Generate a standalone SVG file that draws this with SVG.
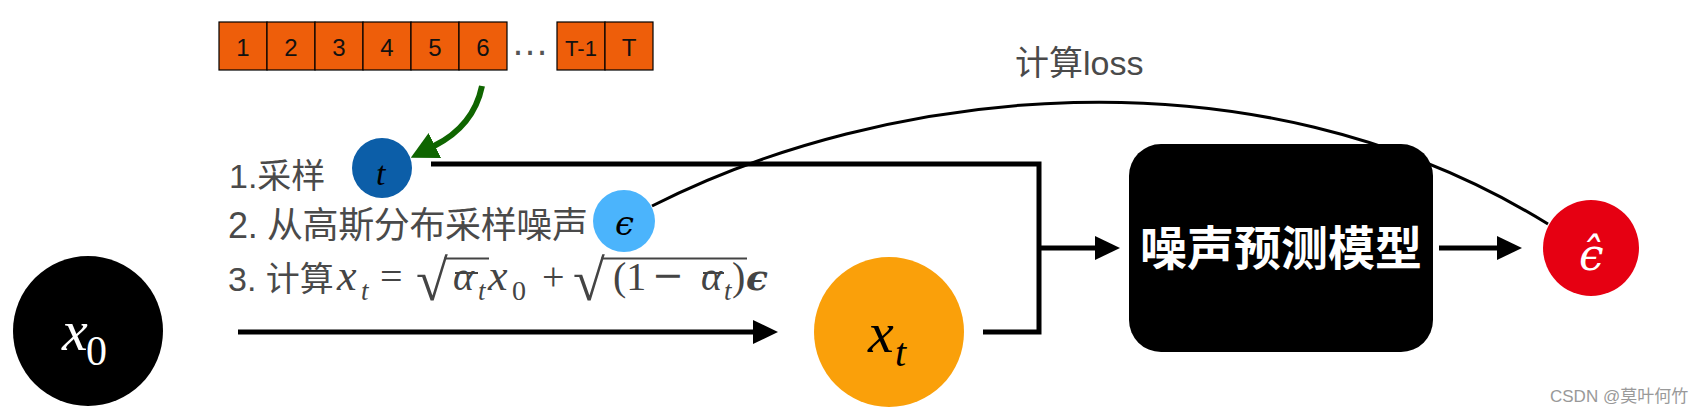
<svg xmlns="http://www.w3.org/2000/svg" width="1702" height="414" viewBox="0 0 1702 414">
<style>
.lbl{font-family:"Liberation Sans","Noto Sans CJK SC",sans-serif;fill:#4a4a4a;}
.cell{fill:#ee5e0a;stroke:#000;stroke-width:1.2;}
.num{font-family:"Liberation Sans",sans-serif;font-size:24px;fill:#111;text-anchor:middle;}
.m{font-family:"Liberation Serif","DejaVu Serif",serif;font-style:italic;}
.mu{font-family:"Liberation Serif","DejaVu Serif",serif;}
.op{font-family:"DejaVu Serif","Liberation Serif",serif;}
.eps{font-family:"DejaVu Serif","Liberation Serif",serif;font-style:italic;}
.conn{fill:none;stroke:#000;stroke-width:5;stroke-linejoin:miter;}
</style>
<defs>
<marker id="ah" markerUnits="userSpaceOnUse" markerWidth="25" markerHeight="24" viewBox="0 0 25 24" refX="1" refY="12" orient="auto"><path d="M0,0 L25,12 L0,24 z" fill="#000"/></marker>
<marker id="ahg" markerUnits="userSpaceOnUse" markerWidth="27" markerHeight="28" viewBox="0 0 27 28" refX="1" refY="14" orient="auto"><path d="M0,0 L27,14 L0,28 z" fill="#0f6500"/></marker>
</defs>

<g id="timesteps">
<rect class="cell" x="219" y="22" width="48" height="48"/>
<rect class="cell" x="267" y="22" width="48" height="48"/>
<rect class="cell" x="315" y="22" width="48" height="48"/>
<rect class="cell" x="363" y="22" width="48" height="48"/>
<rect class="cell" x="411" y="22" width="48" height="48"/>
<rect class="cell" x="459" y="22" width="48" height="48"/>
<rect class="cell" x="557" y="22" width="48" height="48"/>
<rect class="cell" x="605" y="22" width="48" height="48"/>
<text class="num" x="243" y="56">1</text>
<text class="num" x="291" y="56">2</text>
<text class="num" x="339" y="56">3</text>
<text class="num" x="387" y="56">4</text>
<text class="num" x="435" y="56">5</text>
<text class="num" x="483" y="56">6</text>
<text class="num" x="581" y="56" style="font-size:22px">T-1</text>
<text class="num" x="629" y="56">T</text>
<text class="lbl" x="530" y="55" text-anchor="middle" style="font-size:38px;fill:#555">…</text>
</g>

<g id="labels">
<text class="lbl" x="229" y="188" style="font-size:34px">1.采样</text>
<text class="lbl" x="228" y="238" style="font-size:36px" textLength="360" lengthAdjust="spacing">2. 从高斯分布采样噪声</text>
<text class="lbl" x="228" y="291" style="font-size:34px">3. 计算</text>
<text class="lbl" x="1015" y="75" style="font-size:34px">计算loss</text>
</g>

<g id="formula" fill="#444">
<text class="m" x="337" y="290" style="font-size:44px">x</text>
<text class="m" x="361" y="300" style="font-size:27px">t</text>
<text class="mu" x="380" y="290" style="font-size:40px">=</text>
<text class="mu" x="416" y="300" style="font-size:58px">√</text>
<line x1="444" y1="258.5" x2="489" y2="258.5" stroke="#444" stroke-width="2"/>
<text class="m" x="453" y="290" style="font-size:40px">α</text>
<line x1="455" y1="273" x2="478" y2="273" stroke="#444" stroke-width="2"/>
<text class="m" x="478" y="300" style="font-size:27px">t</text>
<text class="m" x="488" y="290" style="font-size:44px">x</text>
<text class="mu" x="512" y="300" style="font-size:28px">0</text>
<text class="mu" x="542" y="290" style="font-size:40px">+</text>
<text class="mu" x="573" y="300" style="font-size:58px">√</text>
<line x1="601" y1="258.5" x2="747" y2="258.5" stroke="#444" stroke-width="2"/>
<text class="mu" x="613" y="290" style="font-size:40px">(1</text>
<text class="op" x="652" y="288" style="font-size:38px">−</text>
<text class="m" x="701" y="290" style="font-size:40px">α</text>
<line x1="703" y1="273" x2="724" y2="273" stroke="#444" stroke-width="2"/>
<text class="m" x="724" y="300" style="font-size:27px">t</text>
<text class="mu" x="732" y="290" style="font-size:40px">)</text>
<text class="eps" x="746" y="290" style="font-size:36px;font-weight:bold">ϵ</text>
</g>

<g id="connectors">
<line class="conn" x1="238" y1="332" x2="754" y2="332" marker-end="url(#ah)"/>
<polyline class="conn" points="431,164 1039,164 1039,332 983,332"/>
<line class="conn" x1="1039" y1="248" x2="1096" y2="248" marker-end="url(#ah)"/>
<line class="conn" x1="1439" y1="248" x2="1498" y2="248" marker-end="url(#ah)"/>
<path d="M652,206 C880,90 1250,40 1548,224" fill="none" stroke="#000" stroke-width="3"/>
<path d="M482,86 C476,115 458,134 434,146" fill="none" stroke="#0f6500" stroke-width="6" marker-end="url(#ahg)"/>
</g>

<g id="node-x0">
<circle cx="88" cy="331" r="75" fill="#000"/>
<text class="m" x="62" y="350" style="font-size:58px" fill="#fff">x</text>
<text class="mu" x="86" y="365" style="font-size:42px" fill="#fff">0</text>
</g>

<g id="node-t">
<circle cx="382" cy="168" r="30" fill="#0c5ea8"/>
<text class="m" x="376" y="185" style="font-size:34px" fill="#000">t</text>
</g>

<g id="node-eps">
<circle cx="624" cy="221" r="31" fill="#4bb4fc"/>
<text class="eps" x="615" y="235" style="font-size:34px" fill="#000">ϵ</text>
</g>

<g id="node-xt">
<circle cx="889" cy="332" r="75" fill="#faa00a"/>
<text class="m" x="868" y="352" style="font-size:58px" fill="#000">x</text>
<text class="m" x="895" y="366" style="font-size:40px" fill="#000">t</text>
</g>

<g id="node-model">
<rect x="1129" y="144" width="304" height="208" rx="32" fill="#000"/>
<text x="1281" y="265" text-anchor="middle" style="font-family:'Noto Sans CJK SC',sans-serif;font-size:47px;font-weight:bold" fill="#fff">噪声预测模型</text>
</g>

<g id="node-epshat">
<circle cx="1591" cy="248" r="48" fill="#e60012"/>
<text class="eps" x="1579" y="270" style="font-size:44px" fill="#fff">ϵ̂</text>
</g>

<g id="watermark">
<text x="1550" y="402" style="font-family:'Liberation Sans','Noto Sans CJK SC',sans-serif;font-size:17px" fill="#999">CSDN @莫叶何竹</text>
</g>
</svg>
